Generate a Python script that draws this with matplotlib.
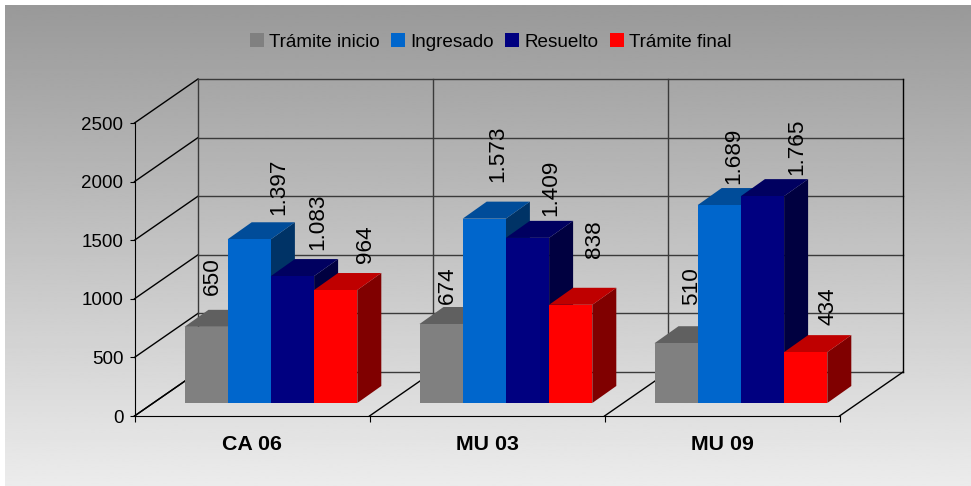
import numpy as np
import matplotlib
matplotlib.use("Agg")
from matplotlib import pyplot as plt
from matplotlib.patches import Patch

plt.rcParams['font.family'] = ['Liberation Sans', 'DejaVu Sans']

categories = ["CA 06", "MU 03", "MU 09"]
series_names = ["Trámite inicio", "Ingresado", "Resuelto", "Trámite final"]
tramite_inicio = [650, 674, 510]
ingresado = [1397, 1573, 1689]
resuelto = [1083, 1409, 1765]
tramite_final = [964, 838, 434]
y_ticks = [0, 500, 1000, 1500, 2000, 2500]

front_colors = ["#808080", "#0066CC", "#000080", "#FF0000"]
top_colors = ["#606060", "#004C99", "#000060", "#BF0000"]
side_colors = ["#404040", "#003366", "#000040", "#800000"]

# hand placed label offsets in the original, pixels from the bar's top centre
label_offsets = [
    [(6, 32), (29, 24), (25, 26), (30, 27)],
    [(6, 20), (13, 37), (23, 22), (24, 47)],
    [(15, 38), (14, 21), (34, 21), (22, 27)],
]

W, H = 971, 486
fig = plt.figure(figsize=(W / 100, H / 100), dpi=100, facecolor="white")

# background gradient
bg = fig.add_axes([5 / W, 0, 1 - 5 / W, 1 - 5 / H], zorder=0)
bg.imshow(np.linspace(0.6, 0.925, 256).reshape(-1, 1), cmap="gray", vmin=0, vmax=1,
          aspect="auto", interpolation="bilinear")
bg.axis("off")

ax = fig.add_axes([134.5 / W, 1 - 416 / H, 705 / W, 293 / H], zorder=1)
ax.patch.set_visible(False)
ax.set_xlim(0, 3)
ax.set_ylim(0, 2500)

px_x = 3 / 705
px_y = 2500 / 293
wall_dx = 63.5 * px_x
wall_dy = 44 * px_y
depth_dx = 24 * px_x
depth_dy = 17 * px_y
bar_dy = 13 * px_y
bar_w = 43.2 * px_x
bar_start = 50 * px_x

# walls and floor
for v in y_ticks:
    ax.plot([0, wall_dx], [v, v + wall_dy], color="black", lw=1, clip_on=False, zorder=1)
    ax.plot([wall_dx, 3 + wall_dx], [v + wall_dy] * 2, color="#3a3a3a", lw=1, clip_on=False, zorder=1)
for i in range(4):
    ax.plot([i + wall_dx] * 2, [wall_dy, 2500 + wall_dy], color="#3a3a3a" if i < 3 else "black",
            lw=1, clip_on=False, zorder=1)
    ax.plot([i, i + wall_dx], [0, wall_dy], color="black", lw=1, clip_on=False, zorder=1)

all_series = [tramite_inicio, ingresado, resuelto, tramite_final]
z = 3
for c in range(len(categories)):
    for s, values in enumerate(all_series):
        v = values[c]
        left = c + bar_start + s * bar_w
        right = left + bar_w
        base = bar_dy
        top = base + v
        ax.fill([right, right + depth_dx, right + depth_dx, right],
                [base, base + depth_dy, top + depth_dy, top],
                color=side_colors[s], lw=0, clip_on=False, zorder=z)
        ax.fill([left, left + depth_dx, right + depth_dx, right],
                [top, top + depth_dy, top + depth_dy, top],
                color=top_colors[s], lw=0, clip_on=False, zorder=z)
        ax.bar(left + bar_w / 2, v, bar_w, bottom=base, color=front_colors[s],
               lw=0, clip_on=False, zorder=z)
        z += 1

for c in range(len(categories)):
    for s, values in enumerate(all_series):
        v = values[c]
        ox, oy = label_offsets[c][s]
        ax.annotate(f"{v:,}".replace(",", "."),
                    (c + bar_start + (s + 0.5) * bar_w, bar_dy + v),
                    xytext=(ox * 0.72, oy * 0.72), textcoords="offset points",
                    rotation=90, ha="center", va="bottom", fontsize=16.2,
                    annotation_clip=False, zorder=50)

for name in ["top", "right"]:
    ax.spines[name].set_visible(False)
ax.spines["left"].set_zorder(2)
ax.spines["bottom"].set_zorder(2)

ax.set_yticks(y_ticks)
ax.tick_params(axis="y", length=3.6, width=0.8, labelsize=13.5, pad=4.5)
ax.set_xticks(range(4))
ax.set_xticklabels([])
ax.tick_params(axis="x", which="major", length=4, width=0.8)
ax.set_xticks(np.arange(len(categories)) + 0.5, minor=True)
ax.set_xticklabels(categories, minor=True, fontsize=15.4, fontweight="bold")
ax.tick_params(axis="x", which="minor", length=0, pad=14)

handles = [Patch(color=col, lw=0) for col in front_colors]
fig.legend(handles, series_names, loc="center", bbox_to_anchor=(490.5 / W, 1 - 42 / H),
           ncol=4, frameon=False, fontsize=13.6, handlelength=0.75, handleheight=0.75,
           handletextpad=0.27, columnspacing=0.6, borderpad=0, borderaxespad=0)

fig.savefig("out.png", dpi=100)
